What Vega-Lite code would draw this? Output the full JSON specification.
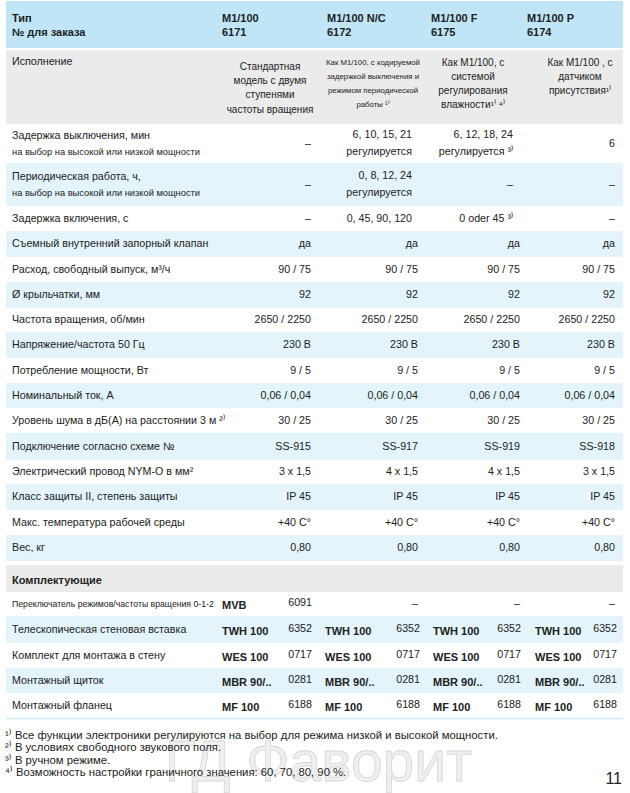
{
  "$schema": "https://vega.github.io/schema/vega-lite/v6.json",
  "width": 630,
  "height": 793,
  "autosize": {"type": "none"},
  "padding": 0,
  "background": "#ffffff",
  "config": {"view": {"stroke": null}, "text": {"font": "Liberation Sans", "color": "#222222"}},
  "datasets": {
    "stripes": [
      {"r": 0, "band": "head"}, {"r": 1, "band": "grey"}, {"r": 3, "band": "blue"}, {"r": 5, "band": "blue"},
      {"r": 7, "band": "blue"}, {"r": 9, "band": "blue"}, {"r": 11, "band": "blue"}, {"r": 13, "band": "blue"},
      {"r": 15, "band": "blue"}, {"r": 17, "band": "blue"}, {"r": 18, "band": "grey"}, {"r": 20, "band": "blue"},
      {"r": 22, "band": "blue"}, {"r": 28, "band": "line"}
    ],
    "cells": [
      {"g": "hdr", "r": 0, "c": 0, "t": "Тип\n№ для заказа"},
      {"g": "hdr", "r": 0, "c": 1, "t": "M1/100\n6171"},
      {"g": "hdr", "r": 0, "c": 2, "t": "M1/100 N/C\n6172"},
      {"g": "hdr", "r": 0, "c": 3, "t": "M1/100 F\n6175"},
      {"g": "hdr", "r": 0, "c": 4, "t": "M1/100  P\n6174"},
      {"g": "hdr2", "r": 18, "c": 0, "t": "Комплектующие"},

      {"g": "labT", "r": 1, "c": 0, "t": "Исполнение"},
      {"g": "labA", "r": 2, "c": 0, "t": "Задержка выключения, мин"},
      {"g": "subB", "r": 2, "c": 0, "t": "на выбор на высокой или низкой мощности"},
      {"g": "labA", "r": 3, "c": 0, "t": "Периодическая работа, ч,"},
      {"g": "subB", "r": 3, "c": 0, "t": "на выбор на высокой или низкой мощности"},
      {"g": "lab", "r": 4, "c": 0, "t": "Задержка включения, с"},
      {"g": "lab", "r": 5, "c": 0, "t": "Съемный внутренний запорный клапан"},
      {"g": "lab", "r": 6, "c": 0, "t": "Расход, свободный выпуск, м³/ч"},
      {"g": "lab", "r": 7, "c": 0, "t": "Ø крыльчатки, мм"},
      {"g": "lab", "r": 8, "c": 0, "t": "Частота вращения, об/мин"},
      {"g": "lab", "r": 9, "c": 0, "t": "Напряжение/частота 50 Гц"},
      {"g": "lab", "r": 10, "c": 0, "t": "Потребление мощности, Вт"},
      {"g": "lab", "r": 11, "c": 0, "t": "Номинальный ток, А"},
      {"g": "lab", "r": 12, "c": 0, "t": "Уровень шума в дБ(А) на расстоянии 3 м ²⁾"},
      {"g": "lab", "r": 13, "c": 0, "t": "Подключение согласно схеме №"},
      {"g": "lab", "r": 14, "c": 0, "t": "Электрический провод NYM-O в мм²"},
      {"g": "lab", "r": 15, "c": 0, "t": "Класс защиты II, степень защиты"},
      {"g": "lab", "r": 16, "c": 0, "t": "Макс. температура рабочей среды"},
      {"g": "lab", "r": 17, "c": 0, "t": "Вес, кг"},
      {"g": "sub", "r": 19, "c": 0, "t": "Переключатель режимов/частоты вращения 0-1-2"},
      {"g": "lab", "r": 20, "c": 0, "t": "Телескопическая стеновая вставка"},
      {"g": "lab", "r": 21, "c": 0, "t": "Комплект для монтажа в стену"},
      {"g": "lab", "r": 22, "c": 0, "t": "Монтажный щиток"},
      {"g": "lab", "r": 23, "c": 0, "t": "Монтажный фланец"},

      {"g": "isp1", "r": 1, "c": 1, "t": "Стандартная\nмодель с двумя\nступенями\nчастоты вращения"},
      {"g": "isp2", "r": 1, "c": 2, "t": "Как М1/100, с кодируемой\nзадержкой выключения и\nрежимом  периодической\nработы ¹⁾"},
      {"g": "isp34", "r": 1, "c": 3, "t": "Как М1/100, с\nсистемой\nрегулирования\nвлажности¹⁾ ⁴⁾"},
      {"g": "isp34", "r": 1, "c": 4, "t": "Как М1/100 , с\nдатчиком\nприсутствия¹⁾"},

      {"g": "val", "r": 2, "c": 1, "t": "–"},
      {"g": "valm", "r": 2, "c": 2, "t": "6, 10, 15, 21\nрегулируется"},
      {"g": "valm", "r": 2, "c": 3, "t": "6, 12, 18, 24\nрегулируется ³⁾"},
      {"g": "val", "r": 2, "c": 4, "t": "6"},
      {"g": "val", "r": 3, "c": 1, "t": "–"},
      {"g": "valm", "r": 3, "c": 2, "t": "0, 8, 12, 24\nрегулируется"},
      {"g": "valb", "r": 3, "c": 3, "t": "–"},
      {"g": "val", "r": 3, "c": 4, "t": "–"},
      {"g": "val", "r": 4, "c": 1, "t": "–"},
      {"g": "valb", "r": 4, "c": 2, "t": "0, 45, 90, 120"},
      {"g": "valb", "r": 4, "c": 3, "t": "0 oder 45 ³⁾"},
      {"g": "val", "r": 4, "c": 4, "t": "–"},
      {"g": "val", "r": 5, "c": 1, "t": "да"}, {"g": "val", "r": 5, "c": 2, "t": "да"}, {"g": "val", "r": 5, "c": 3, "t": "да"}, {"g": "val", "r": 5, "c": 4, "t": "да"},
      {"g": "val", "r": 6, "c": 1, "t": "90 / 75"}, {"g": "val", "r": 6, "c": 2, "t": "90 / 75"}, {"g": "val", "r": 6, "c": 3, "t": "90 / 75"}, {"g": "val", "r": 6, "c": 4, "t": "90 / 75"},
      {"g": "val", "r": 7, "c": 1, "t": "92"}, {"g": "val", "r": 7, "c": 2, "t": "92"}, {"g": "val", "r": 7, "c": 3, "t": "92"}, {"g": "val", "r": 7, "c": 4, "t": "92"},
      {"g": "val", "r": 8, "c": 1, "t": "2650 / 2250"}, {"g": "val", "r": 8, "c": 2, "t": "2650 / 2250"}, {"g": "val", "r": 8, "c": 3, "t": "2650 / 2250"}, {"g": "val", "r": 8, "c": 4, "t": "2650 / 2250"},
      {"g": "val", "r": 9, "c": 1, "t": "230 В"}, {"g": "val", "r": 9, "c": 2, "t": "230 В"}, {"g": "val", "r": 9, "c": 3, "t": "230 В"}, {"g": "val", "r": 9, "c": 4, "t": "230 В"},
      {"g": "val", "r": 10, "c": 1, "t": "9 / 5"}, {"g": "val", "r": 10, "c": 2, "t": "9 / 5"}, {"g": "val", "r": 10, "c": 3, "t": "9 / 5"}, {"g": "val", "r": 10, "c": 4, "t": "9 / 5"},
      {"g": "val", "r": 11, "c": 1, "t": "0,06 / 0,04"}, {"g": "val", "r": 11, "c": 2, "t": "0,06 / 0,04"}, {"g": "val", "r": 11, "c": 3, "t": "0,06 / 0,04"}, {"g": "val", "r": 11, "c": 4, "t": "0,06 / 0,04"},
      {"g": "val", "r": 12, "c": 1, "t": "30 / 25"}, {"g": "val", "r": 12, "c": 2, "t": "30 / 25"}, {"g": "val", "r": 12, "c": 3, "t": "30 / 25"}, {"g": "val", "r": 12, "c": 4, "t": "30 / 25"},
      {"g": "val", "r": 13, "c": 1, "t": "SS-915"}, {"g": "val", "r": 13, "c": 2, "t": "SS-917"}, {"g": "val", "r": 13, "c": 3, "t": "SS-919"}, {"g": "val", "r": 13, "c": 4, "t": "SS-918"},
      {"g": "val", "r": 14, "c": 1, "t": "3 x 1,5"}, {"g": "val", "r": 14, "c": 2, "t": "4 x 1,5"}, {"g": "val", "r": 14, "c": 3, "t": "4 x 1,5"}, {"g": "val", "r": 14, "c": 4, "t": "3 x 1,5"},
      {"g": "val", "r": 15, "c": 1, "t": "IP 45"}, {"g": "val", "r": 15, "c": 2, "t": "IP 45"}, {"g": "val", "r": 15, "c": 3, "t": "IP 45"}, {"g": "val", "r": 15, "c": 4, "t": "IP 45"},
      {"g": "val", "r": 16, "c": 1, "t": "+40 C°"}, {"g": "val", "r": 16, "c": 2, "t": "+40 C°"}, {"g": "val", "r": 16, "c": 3, "t": "+40 C°"}, {"g": "val", "r": 16, "c": 4, "t": "+40 C°"},
      {"g": "val", "r": 17, "c": 1, "t": "0,80"}, {"g": "val", "r": 17, "c": 2, "t": "0,80"}, {"g": "val", "r": 17, "c": 3, "t": "0,80"}, {"g": "val", "r": 17, "c": 4, "t": "0,80"},
      {"g": "val", "r": 19, "c": 2, "t": "–"}, {"g": "val", "r": 19, "c": 3, "t": "–"}, {"g": "val", "r": 19, "c": 4, "t": "–"},

      {"g": "code", "r": 19, "c": 1, "t": "MVB"},
      {"g": "code", "r": 20, "c": 1, "t": "TWH 100"}, {"g": "code", "r": 20, "c": 2, "t": "TWH 100"}, {"g": "code", "r": 20, "c": 3, "t": "TWH 100"}, {"g": "code", "r": 20, "c": 4, "t": "TWH 100"},
      {"g": "code", "r": 21, "c": 1, "t": "WES 100"}, {"g": "code", "r": 21, "c": 2, "t": "WES 100"}, {"g": "code", "r": 21, "c": 3, "t": "WES 100"}, {"g": "code", "r": 21, "c": 4, "t": "WES 100"},
      {"g": "code", "r": 22, "c": 1, "t": "MBR 90/.."}, {"g": "code", "r": 22, "c": 2, "t": "MBR 90/.."}, {"g": "code", "r": 22, "c": 3, "t": "MBR 90/.."}, {"g": "code", "r": 22, "c": 4, "t": "MBR 90/.."},
      {"g": "code", "r": 23, "c": 1, "t": "MF 100"}, {"g": "code", "r": 23, "c": 2, "t": "MF 100"}, {"g": "code", "r": 23, "c": 3, "t": "MF 100"}, {"g": "code", "r": 23, "c": 4, "t": "MF 100"},
      {"g": "num", "r": 19, "c": 1, "t": "6091"},
      {"g": "num", "r": 20, "c": 1, "t": "6352"}, {"g": "num", "r": 20, "c": 2, "t": "6352"}, {"g": "num", "r": 20, "c": 3, "t": "6352"}, {"g": "num", "r": 20, "c": 4, "t": "6352"},
      {"g": "num", "r": 21, "c": 1, "t": "0717"}, {"g": "num", "r": 21, "c": 2, "t": "0717"}, {"g": "num", "r": 21, "c": 3, "t": "0717"}, {"g": "num", "r": 21, "c": 4, "t": "0717"},
      {"g": "num", "r": 22, "c": 1, "t": "0281"}, {"g": "num", "r": 22, "c": 2, "t": "0281"}, {"g": "num", "r": 22, "c": 3, "t": "0281"}, {"g": "num", "r": 22, "c": 4, "t": "0281"},
      {"g": "num", "r": 23, "c": 1, "t": "6188"}, {"g": "num", "r": 23, "c": 2, "t": "6188"}, {"g": "num", "r": 23, "c": 3, "t": "6188"}, {"g": "num", "r": 23, "c": 4, "t": "6188"},

      {"g": "fn", "r": 24, "c": 0, "t": "¹⁾ Все функции электроники регулируются на выбор для режима низкой и высокой мощности."},
      {"g": "fn", "r": 25, "c": 0, "t": "²⁾ В условиях свободного звукового поля."},
      {"g": "fn", "r": 26, "c": 0, "t": "³⁾ В ручном режиме."},
      {"g": "fn", "r": 27, "c": 0, "t": "⁴⁾ Возможность настройки граничного значения: 60, 70, 80, 90 %."},
      {"g": "page", "r": 27, "c": 4, "t": "11"},
      {"g": "wm", "r": 27, "c": 0, "t": "ГД Фаворит"}
    ]
  },
  "resolve": {"scale": {"x": "independent", "y": "shared"}},
  "layer": [
    {
      "data": {"name": "stripes"},
      "mark": {"type": "rule", "strokeCap": "butt"},
      "encoding": {
        "y": {"field": "r", "type": "quantitative", "axis": null,
              "scale": {"type": "linear", "zero": false, "nice": false,
                        "domain": [0,1,2,3,4,5,6,7,8,9,10,11,12,13,14,15,16,17,18,19,20,21,22,23,24,25,26,27,28],
                        "range": [24.5,87,143.5,184.5,218.5,244,269.5,295,320,345,370.5,395.5,420.5,446.5,472,497,522.5,548,578.5,604,629.5,655.5,680.5,705.5,736,748,760.5,773,718.5]}},
        "x": {"datum": 0, "type": "quantitative", "axis": null, "scale": {"domain": [0, 1], "range": [6, 623], "zero": false, "nice": false}},
        "x2": {"datum": 1},
        "stroke": {"field": "band", "type": "nominal", "legend": null,
                   "scale": {"domain": ["head", "grey", "blue", "line"], "range": ["#bfe5f7", "#ebebeb", "#e3f4fb", "#c8e8f6"]}},
        "strokeWidth": {"field": "r", "type": "quantitative", "legend": null,
                        "scale": {"type": "linear", "zero": false, "nice": false,
                                  "domain": [0,1,2,3,4,5,6,7,8,9,10,11,12,13,14,15,16,17,18,19,20,21,22,23,28],
                                  "range": [47,74,39,43,25,26,25,26,24,26,25,25,25,27,24,26,25,26,27,24,27,25,25,25,1.5]}}
      }
    },
    {
      "data": {"name": "cells"},
      "transform": [{"filter": "datum.g === 'wm'"}],
      "mark": {"type": "text", "fontSize": 57, "align": "center", "baseline": "alphabetic", "dy": 8, "dx": 4, "fill": "#efefef", "stroke": "#d6d6d6", "strokeWidth": 0.8},
      "encoding": {
        "x": {"datum": 0.5, "type": "quantitative", "axis": null, "scale": {"domain": [0, 1], "range": [6, 623], "zero": false, "nice": false}},
        "y": {"field": "r", "type": "quantitative", "axis": null},
        "text": {"field": "t"}
      }
    },
    {
      "data": {"name": "cells"},
      "transform": [{"filter": "datum.g === 'hdr'"}],
      "mark": {"type": "text", "fontWeight": "bold", "fontSize": 11, "align": "left", "baseline": "middle", "lineBreak": "\n", "lineHeight": 14, "dy": -6},
      "encoding": {
        "x": {"field": "c", "type": "quantitative", "axis": null, "scale": {"domain": [0,1,2,3,4], "range": [12,222,327,431,527], "zero": false, "nice": false}},
        "y": {"field": "r", "type": "quantitative", "axis": null},
        "text": {"field": "t"}
      }
    },
    {
      "data": {"name": "cells"},
      "transform": [{"filter": "datum.g === 'hdr2'"}],
      "mark": {"type": "text", "fontWeight": "bold", "fontSize": 11, "align": "left", "baseline": "middle", "dy": 2},
      "encoding": {
        "x": {"field": "c", "type": "quantitative", "axis": null, "scale": {"domain": [0,1,2,3,4], "range": [12,222,327,431,527], "zero": false, "nice": false}},
        "y": {"field": "r", "type": "quantitative", "axis": null},
        "text": {"field": "t"}
      }
    },
    {
      "data": {"name": "cells"},
      "transform": [{"filter": "datum.g === 'lab'"}],
      "mark": {"type": "text", "fontSize": 10.7, "align": "left", "baseline": "middle"},
      "encoding": {
        "x": {"field": "c", "type": "quantitative", "axis": null, "scale": {"domain": [0,1,2,3,4], "range": [12,311,418,520,615], "zero": false, "nice": false}},
        "y": {"field": "r", "type": "quantitative", "axis": null},
        "text": {"field": "t"}
      }
    },
    {
      "data": {"name": "cells"},
      "transform": [{"filter": "datum.g === 'labA'"}],
      "mark": {"type": "text", "fontSize": 10.7, "align": "left", "baseline": "middle", "dy": -8},
      "encoding": {
        "x": {"field": "c", "type": "quantitative", "axis": null, "scale": {"domain": [0,1,2,3,4], "range": [12,311,418,520,615], "zero": false, "nice": false}},
        "y": {"field": "r", "type": "quantitative", "axis": null},
        "text": {"field": "t"}
      }
    },
    {
      "data": {"name": "cells"},
      "transform": [{"filter": "datum.g === 'labT'"}],
      "mark": {"type": "text", "fontSize": 10.7, "align": "left", "baseline": "middle", "dy": -25},
      "encoding": {
        "x": {"field": "c", "type": "quantitative", "axis": null, "scale": {"domain": [0,1,2,3,4], "range": [12,311,418,520,615], "zero": false, "nice": false}},
        "y": {"field": "r", "type": "quantitative", "axis": null},
        "text": {"field": "t"}
      }
    },
    {
      "data": {"name": "cells"},
      "transform": [{"filter": "datum.g === 'subB'"}],
      "mark": {"type": "text", "fontSize": 9.3, "align": "left", "baseline": "middle", "dy": 8},
      "encoding": {
        "x": {"field": "c", "type": "quantitative", "axis": null, "scale": {"domain": [0,1,2,3,4], "range": [12,311,418,520,615], "zero": false, "nice": false}},
        "y": {"field": "r", "type": "quantitative", "axis": null},
        "text": {"field": "t"}
      }
    },
    {
      "data": {"name": "cells"},
      "transform": [{"filter": "datum.g === 'sub'"}],
      "mark": {"type": "text", "fontSize": 8.7, "align": "left", "baseline": "middle"},
      "encoding": {
        "x": {"field": "c", "type": "quantitative", "axis": null, "scale": {"domain": [0,1,2,3,4], "range": [12,311,418,520,615], "zero": false, "nice": false}},
        "y": {"field": "r", "type": "quantitative", "axis": null},
        "text": {"field": "t"}
      }
    },
    {
      "data": {"name": "cells"},
      "transform": [{"filter": "datum.g === 'isp1'"}],
      "mark": {"type": "text", "fontSize": 10, "align": "center", "baseline": "top", "lineBreak": "\n", "lineHeight": 14.2, "dy": -25},
      "encoding": {
        "x": {"field": "c", "type": "quantitative", "axis": null, "scale": {"domain": [1,2,3,4], "range": [270,373,473,580], "zero": false, "nice": false}},
        "y": {"field": "r", "type": "quantitative", "axis": null},
        "text": {"field": "t"}
      }
    },
    {
      "data": {"name": "cells"},
      "transform": [{"filter": "datum.g === 'isp2'"}],
      "mark": {"type": "text", "fontSize": 7.8, "align": "center", "baseline": "top", "lineBreak": "\n", "lineHeight": 14, "dy": -28.5},
      "encoding": {
        "x": {"field": "c", "type": "quantitative", "axis": null, "scale": {"domain": [1,2,3,4], "range": [270,373,473,580], "zero": false, "nice": false}},
        "y": {"field": "r", "type": "quantitative", "axis": null},
        "text": {"field": "t"}
      }
    },
    {
      "data": {"name": "cells"},
      "transform": [{"filter": "datum.g === 'isp34'"}],
      "mark": {"type": "text", "fontSize": 10, "align": "center", "baseline": "top", "lineBreak": "\n", "lineHeight": 14, "dy": -29.5},
      "encoding": {
        "x": {"field": "c", "type": "quantitative", "axis": null, "scale": {"domain": [1,2,3,4], "range": [270,373,473,580], "zero": false, "nice": false}},
        "y": {"field": "r", "type": "quantitative", "axis": null},
        "text": {"field": "t"}
      }
    },
    {
      "data": {"name": "cells"},
      "transform": [{"filter": "datum.g === 'val'"}],
      "mark": {"type": "text", "fontSize": 10.7, "align": "right", "baseline": "middle"},
      "encoding": {
        "x": {"field": "c", "type": "quantitative", "axis": null, "scale": {"domain": [0,1,2,3,4], "range": [12,311,418,520,615], "zero": false, "nice": false}},
        "y": {"field": "r", "type": "quantitative", "axis": null},
        "text": {"field": "t"}
      }
    },
    {
      "data": {"name": "cells"},
      "transform": [{"filter": "datum.g === 'valb'"}],
      "mark": {"type": "text", "fontSize": 10.7, "align": "right", "baseline": "middle"},
      "encoding": {
        "x": {"field": "c", "type": "quantitative", "axis": null, "scale": {"domain": [0,1,2,3,4], "range": [12,311,412,513,615], "zero": false, "nice": false}},
        "y": {"field": "r", "type": "quantitative", "axis": null},
        "text": {"field": "t"}
      }
    },
    {
      "data": {"name": "cells"},
      "transform": [{"filter": "datum.g === 'valm'"}],
      "mark": {"type": "text", "fontSize": 10.7, "align": "right", "baseline": "middle", "lineBreak": "\n", "lineHeight": 16.5, "dy": -8.5},
      "encoding": {
        "x": {"field": "c", "type": "quantitative", "axis": null, "scale": {"domain": [0,1,2,3,4], "range": [12,311,412,513,615], "zero": false, "nice": false}},
        "y": {"field": "r", "type": "quantitative", "axis": null},
        "text": {"field": "t"}
      }
    },
    {
      "data": {"name": "cells"},
      "transform": [{"filter": "datum.g === 'code'"}],
      "mark": {"type": "text", "fontSize": 11, "fontWeight": "bold", "align": "left", "baseline": "middle", "dy": 2},
      "encoding": {
        "x": {"field": "c", "type": "quantitative", "axis": null, "scale": {"domain": [1,2,3,4], "range": [222,325,433,535], "zero": false, "nice": false}},
        "y": {"field": "r", "type": "quantitative", "axis": null},
        "text": {"field": "t"}
      }
    },
    {
      "data": {"name": "cells"},
      "transform": [{"filter": "datum.g === 'num'"}],
      "mark": {"type": "text", "fontSize": 10.7, "align": "right", "baseline": "middle", "dy": -1},
      "encoding": {
        "x": {"field": "c", "type": "quantitative", "axis": null, "scale": {"domain": [1,2,3,4], "range": [312,420,521,617], "zero": false, "nice": false}},
        "y": {"field": "r", "type": "quantitative", "axis": null},
        "text": {"field": "t"}
      }
    },
    {
      "data": {"name": "cells"},
      "transform": [{"filter": "datum.g === 'fn'"}],
      "mark": {"type": "text", "fontSize": 11.3, "align": "left", "baseline": "middle", "dx": -7},
      "encoding": {
        "x": {"field": "c", "type": "quantitative", "axis": null, "scale": {"domain": [0,1,2,3,4], "range": [12,311,418,520,615], "zero": false, "nice": false}},
        "y": {"field": "r", "type": "quantitative", "axis": null},
        "text": {"field": "t"}
      }
    },
    {
      "data": {"name": "cells"},
      "transform": [{"filter": "datum.g === 'page'"}],
      "mark": {"type": "text", "fontSize": 16, "align": "right", "baseline": "alphabetic", "dy": 11, "dx": 7},
      "encoding": {
        "x": {"field": "c", "type": "quantitative", "axis": null, "scale": {"domain": [0,1,2,3,4], "range": [12,311,418,520,615], "zero": false, "nice": false}},
        "y": {"field": "r", "type": "quantitative", "axis": null},
        "text": {"field": "t"}
      }
    }
  ]
}
